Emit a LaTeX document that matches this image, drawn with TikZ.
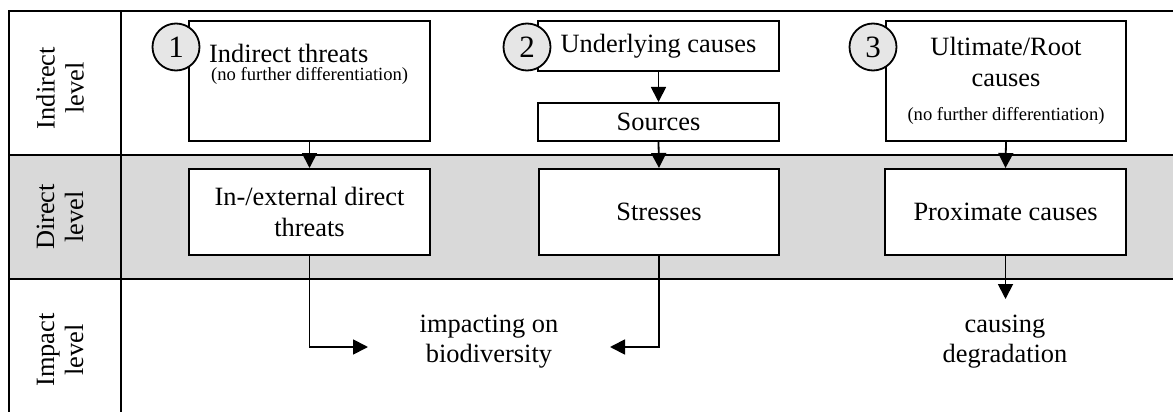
\documentclass[tikz,border=0pt]{standalone}
\usepackage{fontspec}
\setmainfont{Liberation Serif}
\usetikzlibrary{arrows.meta}
\definecolor{rowgray}{HTML}{D9D9D9}
\definecolor{badgegray}{HTML}{E6E6E6}
\begin{document}
\begin{tikzpicture}[x=1pt,y=-1pt,
  every node/.style={font=\fontsize{26.4}{31}\selectfont},
  frame/.style={line width=2.2pt},
  levellabel/.style={rotate=90, align=center, inner sep=0pt, font=\fontsize{26.4}{29}\selectfont},
  box/.style={draw, line width=2pt, fill=white, inner sep=0pt, align=center},
  badge/.style={circle, draw, line width=1.8pt, fill=badgegray, minimum size=47pt, inner sep=0pt, font=\fontsize{31}{31}\selectfont},
  flow/.style={line width=1.8pt, -{Triangle[length=15pt,width=15pt]}},
  smalltext/.style={font=\fontsize{18.6}{22}\selectfont},
  freetext/.style={align=center, inner sep=0pt, font=\fontsize{26.4}{30}\selectfont},
  ]
\useasboundingbox (0,0) rectangle (1173,412);

% table frame with the shaded "direct" row
\fill[rowgray] (9,155) rectangle (1173,279);
\draw[frame] (1173,11) -- (9,11) -- (9,412);
\draw[frame] (121,11) -- (121,412);
\draw[frame] (9,155) -- (1173,155);
\draw[frame] (9,279) -- (1173,279);

% row headings
\node[levellabel] (lblIndirect) at (60,88) {Indirect\\level};
\node[levellabel] (lblDirect) at (60,217) {Direct\\level};
\node[levellabel] (lblImpact) at (60,350) {Impact\\level};

% indirect level
\node[box, minimum width=241pt, minimum height=120pt] (threats) at (309.5,81) {};
\node[anchor=base west, inner sep=0pt] (threatsTitle) at (209,63) {Indirect threats};
\node[anchor=base west, inner sep=0pt, smalltext] (threatsNote) at (211,81) {(no further differentiation)};

\node[box, minimum width=241pt, minimum height=50pt] (underlying) at (658.5,46) {Underlying causes};
\node[box, minimum width=241pt, minimum height=38pt] (sources) at (658.5,122) {Sources};

\node[box, minimum width=240pt, minimum height=120pt] (root) at (1006,81)
  {Ultimate/Root\\causes\\[3pt]{\fontsize{18.6}{22}\selectfont (no further differentiation)}};

% numbered badges
\node[badge] (n1) at (176,47) {1};
\node[badge] (n2) at (527,47) {2};
\node[badge] (n3) at (873,47) {3};

% direct level
\node[box, minimum width=241pt, minimum height=86pt] (direct) at (309.5,212) {In-/external direct\\threats};
\node[box, minimum width=240pt, minimum height=86pt] (stresses) at (659,212) {Stresses};
\node[box, minimum width=241pt, minimum height=86pt] (proximate) at (1005.5,212) {Proximate causes};

% impact level
\node[freetext] (impact) at (489,342) {impacting on\\biodiversity};
\node[freetext] (degrade) at (1005,342) {causing\\degradation};

% connectors
\coordinate (tipLeft) at (368,347);
\coordinate (tipRight) at (610,347);
\coordinate (tipDown) at (1005,299);
\draw[flow] (threats.south) -- (direct.north);
\draw[flow] (underlying.south) -- (sources.north);
\draw[flow] (sources.south) -- (stresses.north);
\draw[flow] (root.south) -- (proximate.north);
\draw[flow] (direct.south) |- (tipLeft);
\draw[flow] (stresses.south) |- (tipRight);
\draw[flow] (proximate.south) -- (proximate.south |- tipDown);
\end{tikzpicture}
\end{document}
